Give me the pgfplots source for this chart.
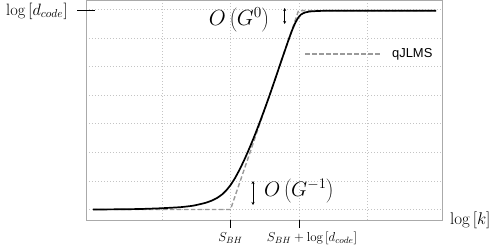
\documentclass[border=0pt]{standalone}
\usepackage{fix-cm}
\usepackage{fontspec}
\usepackage{pgfplots}
\pgfplotsset{compat=1.18}
\usetikzlibrary{arrows.meta}
\newfontfamily\arial{Liberation Sans}
\definecolor{dashgray}{HTML}{9A9A9A}
\definecolor{gridgray}{HTML}{C4C4C4}
\definecolor{framegray}{HTML}{AAAAAA}
\begin{document}
\begin{tikzpicture}
\useasboundingbox (-86bp,-27bp) rectangle (412bp,220bp);
\begin{axis}[
  at={(0,0)}, anchor=south west,
  scale only axis, width=356bp, height=220bp,
  xmin=86, xmax=442, ymin=0, ymax=220,
  axis line style={framegray, line width=0.8bp},
  xtick={162,230.5,299,367.5},
  ytick={10.3,38.9,67.5,96.1,124.7,153.3,181.9,210.5},
  xticklabels={,,,,}, yticklabels={,,,,,,,,},
  major tick length=0pt,
  grid=major,
  grid style={gridgray, line width=0.8bp, dash pattern=on 1bp off 2bp},
  tick pos=left,
  extra x ticks={230.5,299},
  extra x tick labels={,,},
  extra x tick style={grid=none, major tick length=8bp, tick align=outside, tick style={black, line width=1bp}},
  extra y ticks={209},
  extra y tick labels={,,},
  extra y tick style={grid=none, major tick length=17bp, tick align=center, tick style={black, line width=1bp}},
  legend image code/.code={\draw[#1] (0bp,0bp) -- (75bp,0bp);},
  legend style={draw=none, fill=none, at={(axis cs:304.7,166)}, anchor=west, inner sep=0pt, outer sep=0pt, column sep=11bp, nodes={inner sep=0pt}, font=\arial\fontsize{13}{15}\selectfont},
  clip=false,
]
\addplot[dashgray, line width=1.4bp, dash pattern=on 4.5bp off 2.5bp] coordinates {(93,10.5) (230.5,10.5) (298.5,209.3) (436,209.3)};
\addlegendentry{qJLMS}
\addplot[black, line width=1.7bp, smooth, tension=0.3, forget plot] coordinates {
(93,10.5) (120,10.7) (140,11) (160,11.7) (180,12.8) (193,14.3) (205,17) (212,19.5) (217,22) (222,25.5) (226,29.3) (230.5,34.9) (235,41.9) (240,51.2) (245,61.7) (250,73.2) (255,85.4) (260,98.4) (265,111.9) (270,125.9) (275,140.4) (281.7,160.2) (288,178.5) (292,189.5) (295,196.5) (298,202) (301,205.5) (305,207.5) (310,208.5) (318,209) (330,209.2) (436,209.2)};
\node[anchor=east, inner sep=0pt, font=\fontsize{16.5}{19}\selectfont] at (axis cs:68,209) {$\log\left[d_{code}\right]$};
\node[anchor=west, inner sep=0pt, font=\fontsize{17}{20}\selectfont] at (axis cs:450,0) {$\log\left[k\right]$};
\node[anchor=base, inner sep=0pt, font=\fontsize{13}{15}\selectfont] at (axis cs:230.5,-21.5) {$S_{BH}$};
\node[anchor=base, inner sep=0pt, font=\fontsize{13}{15}\selectfont] at (axis cs:312,-21.5) {$S_{BH}+\log\left[d_{code}\right]$};
\node[inner sep=0pt, font=\fontsize{22}{26}\selectfont] at (axis cs:239,200) {$O\left(G^0\right)$};
\node[inner sep=0pt, font=\fontsize{21}{25}\selectfont] at (axis cs:299,29) {$O\left(G^{-1}\right)$};
\draw[{Stealth[length=3bp,width=3bp]}-{Stealth[length=3bp,width=3bp]}, line width=0.7bp] (axis cs:284.7,212) -- (axis cs:284.7,196);
\draw[{Stealth[length=3bp,width=3bp]}-{Stealth[length=3bp,width=3bp]}, line width=0.7bp] (axis cs:253,39) -- (axis cs:253,15);
\end{axis}
\end{tikzpicture}
\end{document}
